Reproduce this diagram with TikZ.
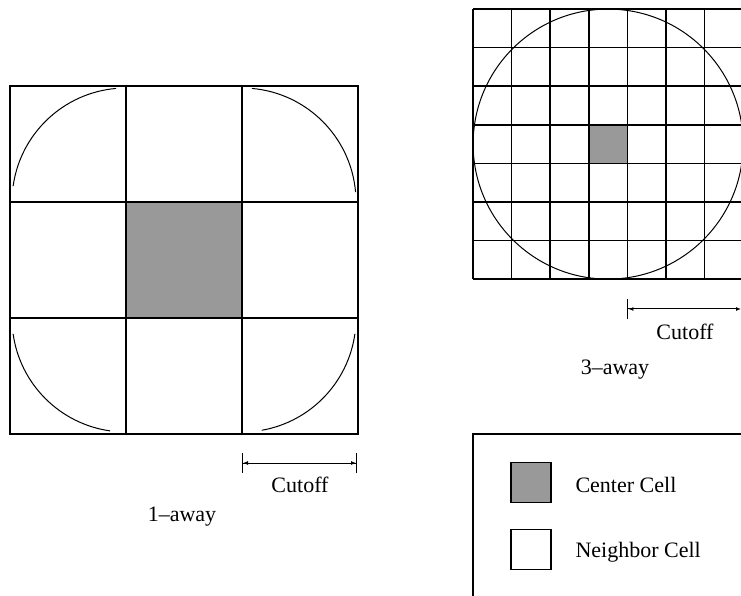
\documentclass[tikz,border=0pt]{standalone}
\usepackage{fontspec}
\setmainfont{Liberation Serif}
\usetikzlibrary{arrows.meta}
\definecolor{centergray}{gray}{0.6}
\tikzset{
  dimline/.style={line width=1pt, {Bar[width=20pt]Latex[length=5pt,width=4pt]}-{Latex[length=5pt,width=4pt]Bar[width=20pt]}},
  dimhalf/.style={line width=1pt, {Bar[width=20pt]Latex[length=5pt,width=4pt]}-{Latex[length=5pt,width=4pt]}},
  keybox/.style={draw, line width=1.5pt, minimum size=40pt, inner sep=0pt}
}

\begin{document}
\begin{tikzpicture}[x=1pt, y=1pt, every node/.style={font=\fontsize{22}{26}\selectfont}]
\useasboundingbox (0,0) rectangle (741,595);
\clip (0,0) rectangle (741,595);

% 1-away
\filldraw [fill=centergray, line width=1.5pt] (126,277) rectangle (242,393);
\begin{scope}[line width=1.5pt]
\draw (10,161) rectangle (358,509);
\draw (126,161) -- (126,509);
\draw (242,161) -- (242,509);
\draw (10,277) -- (358,277);
\draw (10,393) -- (358,393);
\end{scope}

\begin{scope}[line width=1pt]
\draw (126,393) ++(95:114) arc[start angle=95, end angle=172, radius=114];
\draw (242,393) ++(5:114) arc[start angle=5, end angle=85, radius=114];
\draw (242,277) ++(-80:114) arc[start angle=-80, end angle=-8, radius=114];
\draw (126,277) ++(188:114) arc[start angle=188, end angle=262, radius=114];
\end{scope}

\coordinate (cut1l) at (242,132);
\coordinate (cut1r) at (357,132);
\draw [dimline] (cut1l) -- (cut1r);
\node (cut1) at (300,110) {Cutoff};
\node (away1) at (182,78) {1--away};

% 3-away
\filldraw [fill=centergray, line width=1.5pt] (588.8,431.6) rectangle (627.4,470.2);
\begin{scope}[line width=1.5pt]
\foreach \i in {0,...,7} {
  \draw (473+38.6*\i,315.8) -- (473+38.6*\i,586);
  \draw (473,586-38.6*\i) -- (743.2,586-38.6*\i);
}
\end{scope}
\draw [line width=1pt] (608.1,450.9) circle (135);

\coordinate (cut3l) at (627.4,286);
\coordinate (cut3r) at (741,286);
\draw [dimhalf] (cut3l) -- (cut3r);
\node (cut3) at (685,263) {Cutoff};
\node (away3) at (615,225) {3--away};

% key
\draw [line width=1.5pt] (800,161) -- (473,161) -- (473,-10);
\node [keybox, fill=centergray] (keyc) at (531,112.5) {};
\node [keybox, fill=white] (keyn) at (531,45.5) {};
\node [anchor=west] (keyctext) at (572,110) {Center Cell};
\node [anchor=west] (keyntext) at (572,43) {Neighbor Cell};

\end{tikzpicture}
\end{document}
